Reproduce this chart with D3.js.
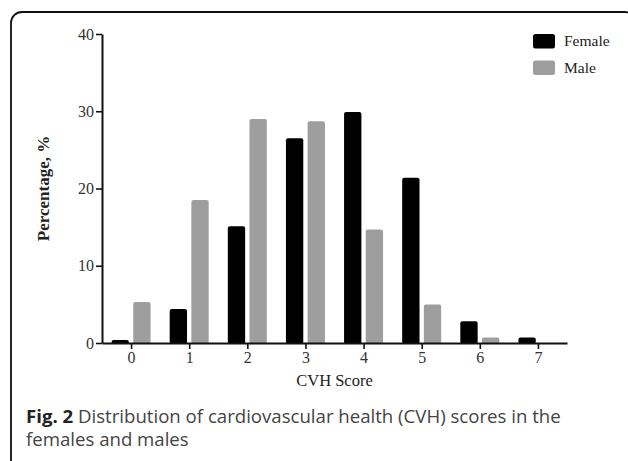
<!DOCTYPE html>
<html>
<head>
<meta charset="utf-8">
<script src="https://cdn.jsdelivr.net/npm/d3@7"></script>
<style>
  html, body { margin: 0; padding: 0; background: #fff; }
  svg { display: block; }
</style>
</head>
<body>
<svg id="chart" width="628" height="461"></svg>
<script>
const categories = [0, 1, 2, 3, 4, 5, 6, 7];
const seriesNames = ["Female", "Male"];
const femaleValues = [0.4, 4.4, 15.1, 26.5, 29.9, 21.4, 2.8, 0.7];
const maleValues = [5.3, 18.5, 29.0, 28.7, 14.7, 5.0, 0.7, 0.0];
const yTicks = [0, 10, 20, 30, 40];
const xLabel = "CVH Score";
const yLabel = "Percentage, %";
const captionBold = "Fig. 2";
const captionLine1 = " Distribution of cardiovascular health (CVH) scores in the";
const captionLine2 = "females and males";

const colors = { Female: "#000000", Male: "#9e9e9e" };
const serif = "'Liberation Serif', 'Times New Roman', serif";
const svg = d3.select("#chart");

// frame
svg.append("rect")
  .attr("x", 11).attr("y", 12).attr("width", 625).attr("height", 460)
  .attr("rx", 11).attr("ry", 11)
  .attr("fill", "#fff").attr("stroke", "#111").attr("stroke-width", 1.8);

const x = d3.scaleLinear().domain([-0.5, 7.5]).range([102, 567]);
const y = d3.scaleLinear().domain([0, 40]).range([343, 34]);
const sub = d3.scaleBand().domain(seriesNames).range([-19.5, 19.5]).paddingInner(0.2);

const rows = categories.map((c, i) => ({ c, Female: femaleValues[i], Male: maleValues[i] }));

// bars
const g = svg.append("g");
seriesNames.forEach(s => {
  g.selectAll(null).data(rows.filter(d => d[s] > 0)).enter().append("rect")
    .attr("x", d => x(d.c) + sub(s))
    .attr("width", sub.bandwidth())
    .attr("y", d => y(d[s]))
    .attr("height", d => y(0) - y(d[s]) + 1)
    .attr("rx", 2).attr("ry", 2)
    .attr("fill", colors[s]);
});

// axes
const yAxis = d3.axisLeft(y).tickValues(yTicks).tickSize(6).tickSizeOuter(0).tickPadding(2);
const xAxis = d3.axisBottom(x).tickValues(categories).tickSize(6).tickSizeOuter(0).tickPadding(3);

const ya = svg.append("g").attr("transform", "translate(102,0)").call(yAxis);
const xa = svg.append("g").attr("transform", "translate(0,343)").call(xAxis);
[ya, xa].forEach(a => {
  a.attr("font-family", serif).attr("font-size", 16);
  a.select(".domain").attr("stroke", "#111").attr("stroke-width", 2);
  a.selectAll(".tick line").attr("stroke", "#111").attr("stroke-width", 1.6);
  a.selectAll(".tick text").attr("fill", "#333");
});

// axis titles
svg.append("text")
  .attr("x", 334.5).attr("y", 386)
  .attr("text-anchor", "middle")
  .attr("font-family", serif).attr("font-size", 16.5)
  .attr("fill", "#222")
  .text(xLabel);

svg.append("text")
  .attr("transform", "translate(49,188.5) rotate(-90)")
  .attr("text-anchor", "middle")
  .attr("font-family", serif).attr("font-size", 17)
  .attr("font-weight", "bold")
  .attr("fill", "#222")
  .text(yLabel);

// legend
const leg = svg.append("g");
seriesNames.forEach((s, i) => {
  leg.append("rect")
    .attr("x", 533).attr("y", 34 + i * 26.5).attr("width", 22).attr("height", 14.5)
    .attr("rx", 2.5).attr("fill", colors[s]);
  leg.append("text")
    .attr("x", 564).attr("y", 46 + i * 26.5)
    .attr("font-family", serif).attr("font-size", 15.5)
    .attr("fill", "#222")
    .text(s);
});

// caption
const capFont = "'Open Sans', 'Noto Sans', sans-serif";
const cap = svg.append("text")
  .attr("x", 26).attr("y", 423)
  .attr("font-family", capFont).attr("font-size", 18)
  .attr("fill", "#444");
cap.append("tspan").attr("font-weight", "bold").attr("fill", "#222").text(captionBold);
cap.append("tspan").text(captionLine1);
const cap2 = svg.append("text")
  .attr("x", 26).attr("y", 446)
  .attr("font-family", capFont).attr("font-size", 18)
  .attr("fill", "#444")
  .text(captionLine2);
// fit caption font size to the reference line width
const w = cap.node().getComputedTextLength();
const fs = 18 * 535 / w;
cap.attr("font-size", fs);
cap2.attr("font-size", fs);
</script>
</body>
</html>
